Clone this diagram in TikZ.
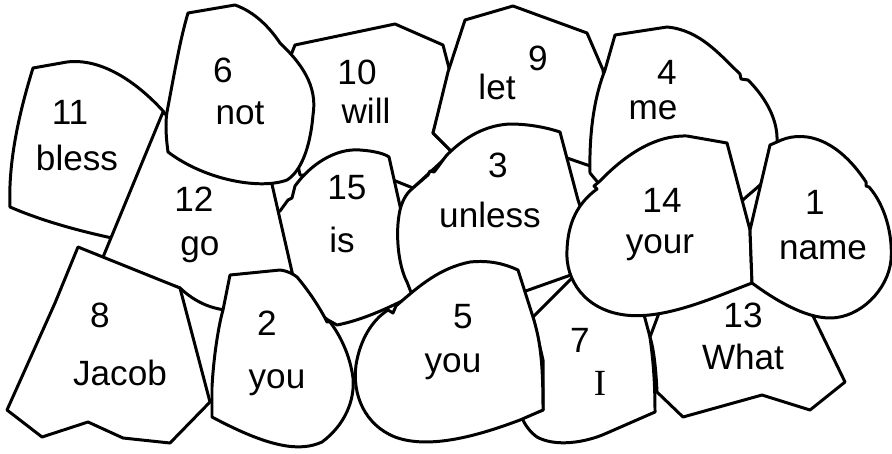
\documentclass[tikz,border=0pt]{standalone}
\usepackage{fontspec}
\setmainfont{Liberation Sans}
\newfontfamily\serifI{Liberation Serif}
\begin{document}
\begin{tikzpicture}[x=0.02cm,y=-0.02cm,
  stone/.style={draw=black, fill=white, line width=1.7pt, line join=round},
  lbl/.style={inner sep=0pt, font=\fontsize{20}{23}\selectfont}]
\useasboundingbox[fill=white] (0,0) rectangle (892,453);
% 10 will
\path[stone] (295,45) -- (395,24) -- (443,45) -- (450,72) -- (433,133) -- (452,152) -- (413,188) -- (393,180) -- (300,175) -- (285,100) -- (291,55) -- cycle;
% 9 let
\path[stone] (465,20) -- (513,6) -- (587,33) -- (603,70) -- (610,120) -- (596,168) -- (567,158) -- (560,190) -- (470,190) -- (452,152) -- (433,133) -- (448,72) -- cycle;
% 4 me
\path[stone] (615,35) -- (667,27) .. controls (700,30) and (720,55) .. (740,74) -- (741,79) -- (748,80) .. controls (768,100) and (778,122) .. (777,142) -- (772,165) .. controls (768,176) and (765,180) .. (762,183) .. controls (755,190) and (748,195) .. (743,200) -- (700,200) -- (600,185) -- (590,173) .. controls (589,130) and (595,95) .. (605,70) -- cycle;
% 11 bless
\path[stone] (33,68) -- (67,62) .. controls (100,58) and (135,80) .. (164,112) -- (112,238) .. controls (75,230) and (40,220) .. (10,207) .. controls (8,160) and (20,110) .. (33,68) -- cycle;
% 15 is
\path[stone] (270,215) -- (280,211) -- (288,200) -- (292,198) -- (295,186) .. controls (310,165) and (335,148) .. (360,150) .. controls (375,151) and (385,154) .. (389,157) -- (402,215) -- (418,260) -- (420,292) .. controls (400,302) and (368,319) .. (337,325) -- (328,320) -- (300,300) -- (270,280) -- cycle;
% 12 go
\path[stone] (163,112) -- (101,262) -- (180,288) .. controls (195,302) and (210,308) .. (225,310) -- (245,290) -- (295,285) -- (271,180) -- (230,175) -- cycle;
% 6 not
\path[stone] (188,13) -- (235,5) .. controls (255,12) and (270,28) .. (280,43) .. controls (300,62) and (318,85) .. (313,115) .. controls (310,150) and (300,172) .. (287,180) .. controls (260,190) and (205,180) .. (168,152) .. controls (165,130) and (166,118) .. (167,112) .. controls (175,70) and (180,40) .. (188,13) -- cycle;
% 3 unless
\path[stone] (400,210) .. controls (403,198) and (408,192) .. (413,188) -- (428,175) -- (430,171) -- (434,172) .. controls (440,165) and (445,156) .. (450,152) .. controls (470,133) and (490,125) .. (510,124) .. controls (530,124) and (548,128) .. (560,132) -- (578,200) -- (590,235) -- (585,270) -- (568,276) -- (520,293) -- (450,300) -- (414,300) -- (407,282) .. controls (398,265) and (395,232) .. (400,210) -- cycle;
% 7 I
\path[stone] (533,317) -- (572,278) -- (610,300) -- (643,311) -- (650,337) .. controls (653,360) and (655,380) .. (655,412) -- (607,433) .. controls (585,443) and (555,447) .. (537,437) .. controls (530,432) and (525,425) .. (522,418) -- (543,410) -- (543,360) -- cycle;
% 13 What
\path[stone] (662,305) -- (748,270) -- (800,300) -- (813,316) -- (845,382) -- (810,410) -- (762,395) -- (683,417) -- (657,392) .. controls (656,370) and (654,350) .. (650,337) -- cycle;
% 14 your
\path[stone] (600,181) .. controls (625,155) and (655,135) .. (687,136) -- (727,143) -- (750,230) -- (752,283) .. controls (715,297) and (665,320) .. (625,315) .. controls (585,310) and (565,280) .. (567,250) .. controls (568,222) and (578,203) .. (597,189) -- (594,186) -- cycle;
% 1 name
\path[stone] (770,145) -- (777,142) .. controls (800,130) and (835,135) .. (866,182) -- (866,186) -- (869,187) .. controls (885,205) and (893,235) .. (891,260) .. controls (888,290) and (860,318) .. (830,318) .. controls (805,318) and (775,300) .. (752,283) -- (750,230) -- cycle;
% 8 Jacob
\path[stone] (78,247) -- (180,288) -- (210,402) -- (170,443) -- (123,438) -- (88,422) -- (42,437) -- (7,410) -- (55,303) -- cycle;
% 2 you
\path[stone] (230,275) -- (280,270) .. controls (288,271) and (293,274) .. (297,277) .. controls (308,290) and (318,305) .. (325,318) -- (327,322) -- (330,322) .. controls (340,335) and (350,355) .. (353,378) .. controls (355,400) and (345,425) .. (322,442) .. controls (300,452) and (270,448) .. (212,417) -- (212,387) .. controls (214,350) and (220,320) .. (223,310) -- cycle;
% 5 you
\path[stone] (388,310) -- (393,313) -- (396,306) .. controls (420,285) and (440,268) .. (470,262) .. controls (490,260) and (505,264) .. (518,270) -- (533,317) .. controls (540,340) and (543,360) .. (543,410) -- (520,420) .. controls (480,435) and (430,450) .. (395,437) .. controls (365,425) and (352,395) .. (356,365) .. controls (360,340) and (372,320) .. (388,310) -- cycle;
% labels
\node[lbl] (n11) at (70,112) {11};
\node[lbl] (w11) at (77,158) {bless};
\node[lbl] (n6) at (223,70) {6};
\node[lbl] (w6) at (240,113) {not};
\node[lbl] (n10) at (357,72) {10};
\node[lbl] (w10) at (366,111) {will};
\node[lbl] (n9) at (538,58) {9};
\node[lbl] (w9) at (497,87) {let};
\node[lbl] (n4) at (667,72) {4};
\node[lbl] (w4) at (653,110) {me};
\node[lbl] (n12) at (194,199) {12};
\node[lbl] (w12) at (200,250) {go};
\node[lbl] (n15) at (347,188) {15};
\node[lbl] (w15) at (342,240) {is};
\node[lbl] (n3) at (498,165) {3};
\node[lbl] (w3) at (490,215) {unless};
\node[lbl] (n14) at (662,200) {14};
\node[lbl] (w14) at (660,248) {your};
\node[lbl] (n1) at (815,202) {1};
\node[lbl] (w1) at (823,250) {name};
\node[lbl] (n8) at (100,315) {8};
\node[lbl] (w8) at (120,373) {Jacob};
\node[lbl] (n2) at (267,323) {2};
\node[lbl] (w2) at (277,383) {you};
\node[lbl] (n5) at (463,317) {5};
\node[lbl] (w5) at (453,367) {you};
\node[lbl] (n7) at (580,340) {7};
\node[lbl, font=\fontsize{21}{24}\serifI] (w7) at (600,383) {I};
\node[lbl] (n13) at (743,315) {13};
\node[lbl] (w13) at (743,357) {What};
\end{tikzpicture}
\end{document}
